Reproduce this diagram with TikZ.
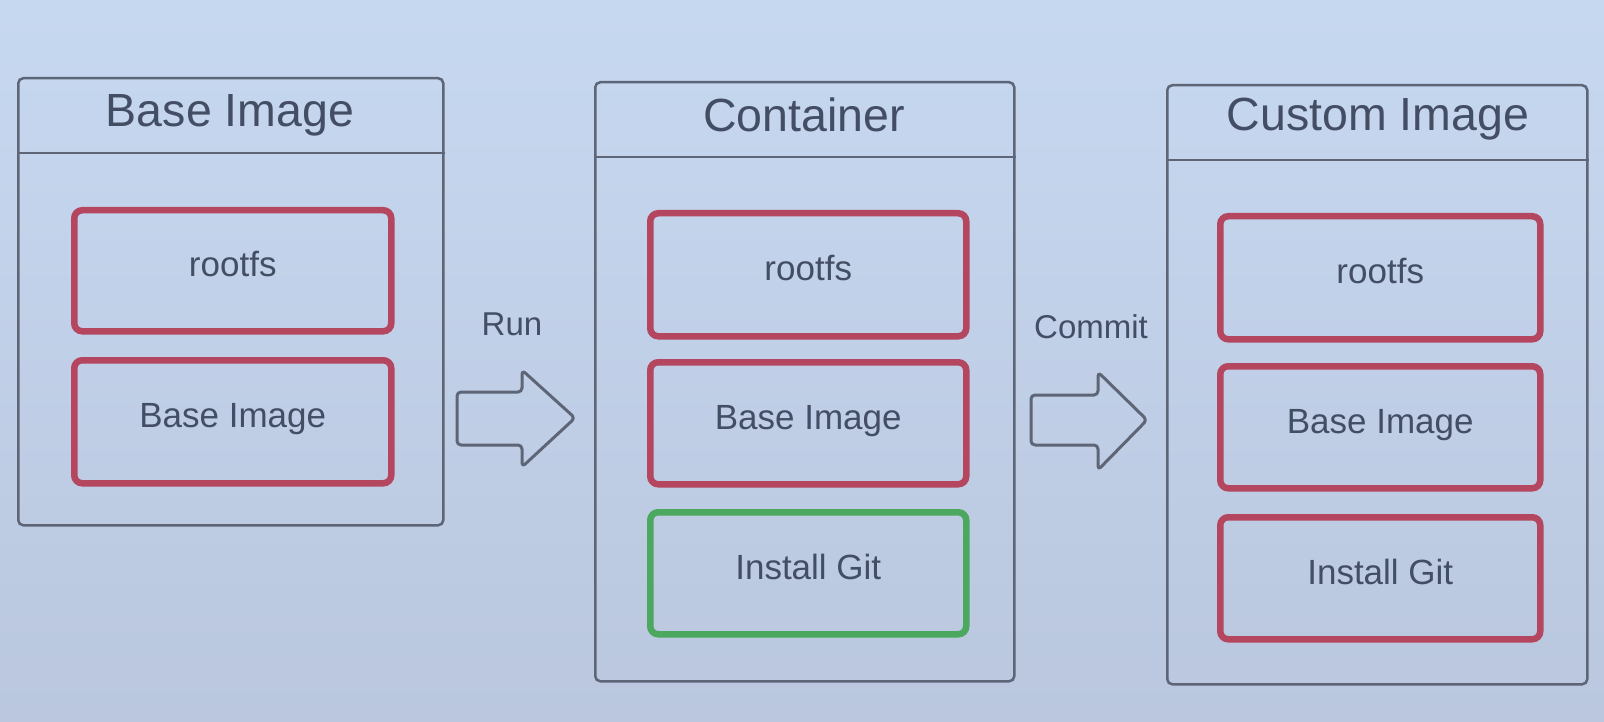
\documentclass[tikz,border=0pt]{standalone}
\usepackage{fontspec}
\setmainfont{Liberation Sans}
\definecolor{bgtop}{HTML}{C6D8F0}
\definecolor{bgbot}{HTML}{BAC7DE}
\definecolor{linec}{HTML}{5D6577}
\definecolor{redc}{HTML}{B4465F}
\definecolor{greenc}{HTML}{4CA85E}
\definecolor{txtc}{HTML}{434E65}
\begin{document}
\begin{tikzpicture}[x=1pt,y=-1pt,
  outerbox/.style={draw=linec, line width=2.5pt, rounded corners=5pt, anchor=north west, inner sep=0pt},
  headtext/.style={text=txtc, font=\fontsize{46.5}{54}\selectfont, inner sep=0pt},
  layerbox/.style={draw=redc, line width=6.5pt, rounded corners=8pt, anchor=north west, inner sep=0pt, text=txtc, font=\fontsize{35}{42}\selectfont, text depth=0pt, text height=12pt},
  newlayer/.style={layerbox, draw=greenc},
  blockarrow/.style={draw=linec, line width=3pt, rounded corners=4pt, line join=round},
  arrowlabel/.style={text=txtc, font=\fontsize{33}{40}\selectfont, inner sep=0pt}
]
\useasboundingbox (0,0) rectangle (1604,722);
\shade[top color=bgtop, bottom color=bgbot] (0,0) rectangle (1604,722);

% Base Image
\node[outerbox, minimum width=425pt, minimum height=447pt] (b1) at (17,77) {};
\draw[linec, line width=2.5pt] ([yshift=-76pt]b1.north west) -- ([yshift=-76pt]b1.north east);
\node[headtext] (b1h) at (230,115) {Base Image};
\node[layerbox, minimum width=317pt, minimum height=121pt] (b1r) at (71,207) {rootfs};
\node[layerbox, minimum width=317pt, minimum height=123pt] (b1b) at (71,357) {Base Image};

% Container
\node[outerbox, minimum width=419pt, minimum height=599pt] (b2) at (594,81) {};
\draw[linec, line width=2.5pt] ([yshift=-76pt]b2.north west) -- ([yshift=-76pt]b2.north east);
\node[headtext] (b2h) at (804,115) {Container};
\node[layerbox, minimum width=316pt, minimum height=123pt] (b2r) at (647,210) {rootfs};
\node[layerbox, minimum width=316pt, minimum height=122pt] (b2b) at (647,359) {Base Image};
\node[newlayer, minimum width=316pt, minimum height=122pt] (b2g) at (647,509) {Install Git};

% Custom Image
\node[outerbox, minimum width=420pt, minimum height=599pt] (b3) at (1166,84) {};
\draw[linec, line width=2.5pt] ([yshift=-76pt]b3.north west) -- ([yshift=-76pt]b3.north east);
\node[headtext] (b3h) at (1378,119) {Custom Image};
\node[layerbox, minimum width=320pt, minimum height=123pt] (b3r) at (1217,213) {rootfs};
\node[layerbox, minimum width=320pt, minimum height=122pt] (b3b) at (1217,363) {Base Image};
\node[layerbox, minimum width=320pt, minimum height=122pt] (b3g) at (1217,514) {Install Git};

% Run arrow
\coordinate (runA) at (457,418);
\draw[blockarrow] ([shift={(0,-26)}]runA) -- ++(65,0) -- ++(0,-22) -- ([shift={(118,0)}]runA)
  -- ([shift={(65,49)}]runA) -- ++(0,-22) -- ([shift={(0,27)}]runA) -- cycle;
\node[arrowlabel] (runL) at (512,324) {Run};

% Commit arrow
\coordinate (comA) at (1031,420);
\draw[blockarrow] ([shift={(0,-25)}]comA) -- ++(67,0) -- ++(0,-23) -- ([shift={(116,0)}]comA)
  -- ([shift={(67,50)}]comA) -- ++(0,-25) -- ([shift={(0,25)}]comA) -- cycle;
\node[arrowlabel] (comL) at (1091,327) {Commit};
\end{tikzpicture}
\end{document}
